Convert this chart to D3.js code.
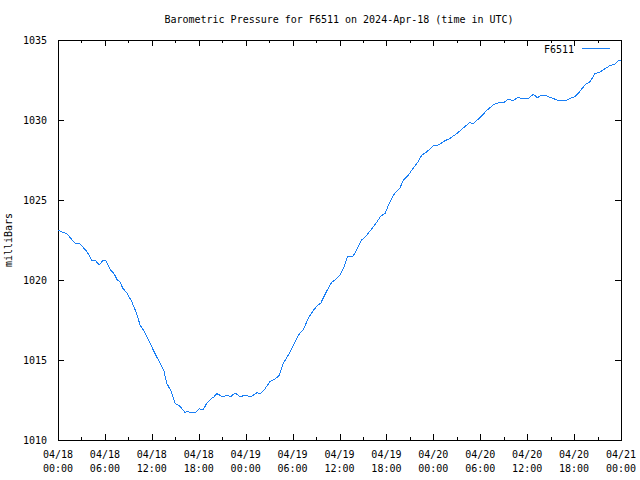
<!DOCTYPE html>
<html>
<head>
<meta charset="utf-8">
<script src="https://cdn.jsdelivr.net/npm/d3@7"></script>
<style>
  html, body { margin: 0; padding: 0; background: #fff; }
  svg { display: block; }
  text { font-family: "DejaVu Sans Mono", "Liberation Mono", monospace; font-size: 10px; fill: #000; }
</style>
</head>
<body>
<svg id="chart" width="640" height="480"></svg>
<script>
// ---- data ----
const title = "Barometric Pressure for F6511 on 2024-Apr-18 (time in UTC)";
const seriesName = "F6511";
const yLabel = "milliBars";
const startTime = "2024-04-18T00:00:00Z";
// hours since 2024-04-18 00:00 UTC
const hours = [0.0,1.11,2.17,2.81,3.67,4.31,4.73,5.15,5.37,5.79,6.10,6.74,7.16,7.58,7.93,8.27,8.79,9.43,9.98,10.49,
  11.13,11.77,12.41,13.05,13.56,13.90,14.41,14.96,15.60,15.95,16.28,16.54,16.88,17.52,18.07,18.58,19.02,19.53,19.95,20.30,
  20.72,21.06,21.57,22.09,22.64,23.28,23.91,24.64,25.41,25.92,26.47,27.11,27.75,28.30,28.81,29.45,30.09,30.73,31.37,32.01,
  32.65,33.16,33.60,34.36,35.00,35.55,36.06,36.58,37.00,37.69,38.20,38.84,39.48,40.12,40.76,41.27,41.82,42.46,43.10,43.74,
  44.16,44.80,45.44,46.08,46.51,47.15,48.00,48.76,49.27,50.13,50.99,51.83,52.69,53.03,53.97,54.83,55.67,56.44,57.04,57.59,
  58.23,58.74,59.51,60.15,60.79,61.30,61.86,62.28,62.92,63.34,63.78,64.42,65.06,65.70,66.12,66.76,67.40,68.04,68.68,69.31,
  69.95,70.59,71.23,71.66,72.0];
const pressure = [1023.1,1022.9,1022.3,1022.25,1021.8,1021.25,1021.25,1021.0,1021.0,1021.25,1021.2,1020.6,1020.4,1020.0,1019.9,1019.5,1019.2,1018.65,1018.0,1017.2,
  1016.7,1016.05,1015.4,1014.8,1014.3,1013.55,1013.1,1012.3,1012.1,1011.9,1011.7,1011.8,1011.7,1011.7,1011.95,1011.9,1012.3,1012.55,1012.7,1012.9,
  1012.8,1012.7,1012.8,1012.7,1012.95,1012.7,1012.8,1012.7,1012.95,1012.9,1013.2,1013.65,1013.8,1014.05,1014.8,1015.3,1015.9,1016.55,1016.9,1017.6,
  1018.1,1018.4,1018.55,1019.3,1019.85,1020.05,1020.3,1020.8,1021.45,1021.45,1021.9,1022.5,1022.8,1023.2,1023.6,1024.0,1024.15,1024.9,1025.45,1025.75,
  1026.25,1026.55,1027.0,1027.4,1027.8,1028.0,1028.4,1028.45,1028.65,1028.85,1029.15,1029.5,1029.85,1029.75,1030.15,1030.6,1030.95,1031.1,1031.1,1031.3,
  1031.2,1031.4,1031.35,1031.35,1031.6,1031.4,1031.55,1031.55,1031.4,1031.35,1031.25,1031.25,1031.25,1031.4,1031.45,1031.8,1032.2,1032.4,1032.9,1033.0,
  1033.2,1033.4,1033.5,1033.7,1033.7];
const yTicks = [1010, 1015, 1020, 1025, 1030, 1035];
const xTickHours = [0, 6, 12, 18, 24, 30, 36, 42, 48, 54, 60, 66, 72];
const xMinorHours = [3, 9, 15, 21, 27, 33, 39, 45, 51, 57, 63, 69];

// ---- layout ----
const svg = d3.select("#chart");
const L = 58, R = 621, T = 40, B = 440;
const color = "#1a7ff5";
const t0 = new Date(startTime);
const toDate = h => new Date(t0.getTime() + h * 3600000);

const x = d3.scaleUtc().domain([toDate(0), toDate(72)]).range([L, R]);
const y = d3.scaleLinear().domain([1010, 1035]).range([B, T]);

const fmtDate = d3.utcFormat("%m/%d");
const fmtTime = d3.utcFormat("%H:%M");

// title
svg.append("text").attr("x", 339).attr("y", 23).attr("text-anchor", "middle").text(title);

// y label
svg.append("text").attr("transform", "translate(12,240) rotate(-90)")
  .attr("text-anchor", "middle").text(yLabel);

// axes
const gB = svg.append("g").attr("transform", `translate(0,${B})`)
  .call(d3.axisBottom(x).tickValues(xTickHours.map(toDate)).tickSize(-6).tickFormat(""));
const gBm = svg.append("g").attr("transform", `translate(0,${B})`)
  .call(d3.axisBottom(x).tickValues(xMinorHours.map(toDate)).tickSize(-3).tickFormat(""));
const gT = svg.append("g").attr("transform", `translate(0,${T})`)
  .call(d3.axisTop(x).tickValues(xTickHours.map(toDate)).tickSize(-6).tickFormat(""));
const gTm = svg.append("g").attr("transform", `translate(0,${T})`)
  .call(d3.axisTop(x).tickValues(xMinorHours.map(toDate)).tickSize(-3).tickFormat(""));
const gL = svg.append("g").attr("transform", `translate(${L},0)`)
  .call(d3.axisLeft(y).tickValues(yTicks).tickSize(-6).tickPadding(11).tickFormat(d3.format("d")));
const gR = svg.append("g").attr("transform", `translate(${R},0)`)
  .call(d3.axisRight(y).tickValues(yTicks).tickSize(-6).tickFormat(""));

[gB, gBm, gT, gTm, gL, gR].forEach(g => {
  g.select(".domain").remove();
  g.selectAll("line").attr("stroke", "#000").attr("shape-rendering", "crispEdges");
  g.selectAll("text").attr("font-family", null).attr("font-size", null).attr("fill", "#000");
});
gL.selectAll("text").attr("dy", "0.35em");

// x tick labels (two lines)
const xl = svg.append("g");
xTickHours.forEach(h => {
  const d = toDate(h);
  const t = xl.append("text").attr("x", x(d)).attr("text-anchor", "middle");
  t.append("tspan").attr("x", x(d)).attr("y", 458).text(fmtDate(d));
  t.append("tspan").attr("x", x(d)).attr("y", 472).text(fmtTime(d));
});

// frame
svg.append("rect").attr("x", L).attr("y", T).attr("width", R - L).attr("height", B - T)
  .attr("fill", "none").attr("stroke", "#000").attr("shape-rendering", "crispEdges");

// line
const line = d3.line().x((d, i) => x(toDate(hours[i]))).y(d => y(d));
svg.append("path").datum(pressure).attr("d", line)
  .attr("fill", "none").attr("stroke", color).attr("stroke-width", 1)
  .attr("shape-rendering", "crispEdges");

// legend
svg.append("text").attr("x", 574).attr("y", 53).attr("text-anchor", "end").text(seriesName);
svg.append("line").attr("x1", 582).attr("x2", 610).attr("y1", 48.5).attr("y2", 48.5)
  .attr("stroke", color).attr("stroke-width", 1).attr("shape-rendering", "crispEdges");
</script>
</body>
</html>
